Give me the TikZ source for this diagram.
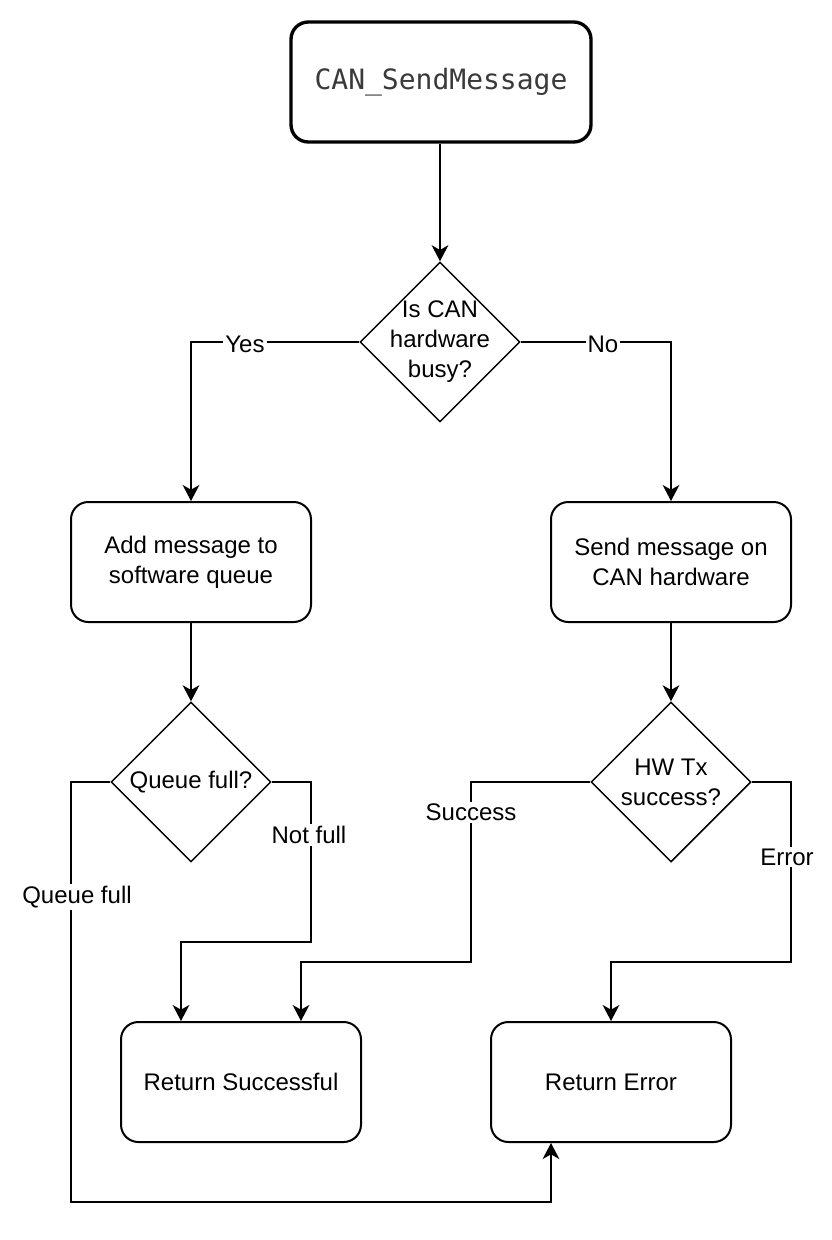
\documentclass[tikz,border=0pt]{standalone}
\usepackage{fontspec}
\setmainfont{Liberation Sans}
\setmonofont{DejaVu Sans Mono}
\usetikzlibrary{arrows.meta,shapes.geometric}
\definecolor{monogray}{HTML}{3A3A3A}
\tikzset{
  base/.style={font={\fontsize{18}{22.5}\selectfont}, align=center},
  procbox/.style={base, draw, line width=1.5pt, rounded corners=13pt,
    minimum width=180pt, minimum height=90pt, inner sep=0pt},
  startbox/.style={draw, line width=2.5pt, rounded corners=13pt,
    minimum width=225pt, minimum height=90pt, inner sep=0pt,
    font={\ttfamily\fontsize{21}{25}\selectfont}, text=monogray},
  decision/.style={draw, diamond, aspect=1, line width=1.1pt,
    minimum width=120pt, minimum height=120pt, inner sep=0pt},
  dtext/.style={base},
  arr/.style={line width=1.5pt, -{Stealth[length=12pt,width=12.5pt,inset=3.5pt]}},
  lbl/.style={base, fill=white, inner sep=1.5pt},
}
\begin{document}
\begin{tikzpicture}[x=0.75pt,y=-0.75pt]
\useasboundingbox (0,0) rectangle (832,1240);
\fill[white] (0,0) rectangle (832,1240);

\node[startbox] (start) at (441,82) {CAN\_SendMessage};
\node[decision] (d1) at (440,342) {};
\node[dtext] (d1t) at (440,342) {Is CAN\\hardware\\busy?};
\node[procbox] (add) at (191,562) {Add message to\\software queue};
\node[procbox] (send) at (671,562) {Send message on\\CAN hardware};
\node[decision] (d2) at (191,782) {};
\node[dtext] (d2t) at (191,782) {Queue full?};
\node[decision] (d3) at (671,782) {};
\node[dtext] (d3t) at (671,782) {HW Tx\\success?};
\node[procbox] (retS) at (241,1082) {Return Successful};
\node[procbox] (retE) at (611,1082) {Return Error};

\coordinate (nf) at (181,942);
\coordinate (sc) at (301,962);
\coordinate (er) at (611,962);
\coordinate (qf) at (71,1202);
\coordinate (qe) at (551,1202);

\draw[arr] (start.south -| d1.north) -- (d1.north);
\draw[arr] (d1.west) -| (add.north);
\draw[arr] (d1.east) -| (send.north);
\draw[arr] (add.south) -- (d2.north);
\draw[arr] (send.south) -- (d3.north);
\draw[arr] (d2.east) -| (311,942) -- (nf) -- (nf |- retS.north);
\draw[arr] (d2.west) -| (qf) -- (qe) -- (qe |- retE.south);
\draw[arr] (d3.west) -| (471,962) -- (sc) -- (sc |- retS.north);
\draw[arr] (d3.east) -| (791,962) -- (er) -- (retE.north);

\node[lbl] (lyes) at (245,344) {Yes};
\node[lbl] (lno) at (603,344) {No};
\node[lbl] (lnf) at (309,835) {Not full};
\node[lbl] (lqf) at (77,897) {Queue full};
\node[lbl] (lsc) at (471,812) {Success};
\node[lbl] (ler) at (787,857) {Error};
\end{tikzpicture}
\end{document}
